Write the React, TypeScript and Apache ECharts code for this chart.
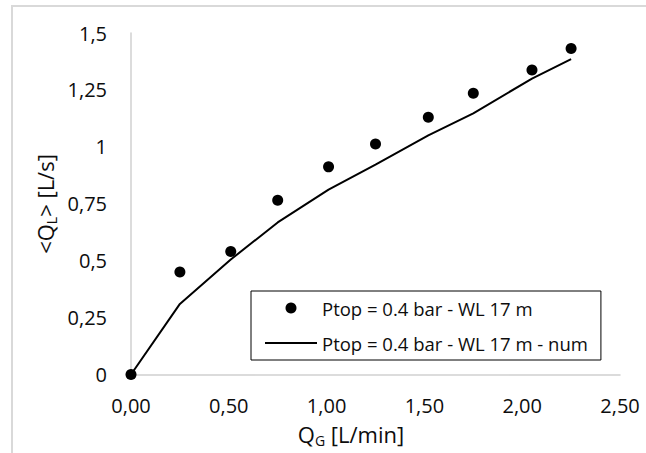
import React, { useEffect, useRef } from "react";
import * as echarts from "echarts";

// Gas flow rate Q_G [L/min] (x) for experimental points
const gasFlowExp = [0, 0.25, 0.51, 0.75, 1.01, 1.25, 1.52, 1.75, 2.05, 2.25];
// Mean liquid flow rate <Q_L> [L/s], experiment
const liquidFlowExp = [0, 0.45, 0.54, 0.765, 0.912, 1.012, 1.13, 1.235, 1.337, 1.432];
// Numerical curve
const gasFlowNum = [0, 0.25, 0.51, 0.75, 1.01, 1.25, 1.52, 1.75, 2.05, 2.25];
const liquidFlowNum = [0, 0.31, 0.505, 0.668, 0.812, 0.922, 1.05, 1.147, 1.3, 1.385];

const seriesNames = ["Ptop = 0.4 bar - WL 17 m", "Ptop = 0.4 bar - WL 17 m - num"];
const xTicks = [0, 0.5, 1, 1.5, 2, 2.5];
const yTicks = [0, 0.25, 0.5, 0.75, 1, 1.25, 1.5];

const FONT = "'Open Sans', 'Noto Sans', sans-serif";
const TEXT = "#0d0d0d";

export default function App() {
  const ref = useRef<HTMLDivElement>(null);
  useEffect(() => {
    if (!ref.current) return;
    const chart = echarts.init(ref.current, undefined, { renderer: "svg" });
    const option = {
      animation: false,
      backgroundColor: "#ffffff",
      grid: { left: 131, right: 26, top: 33, bottom: 78.5, containLabel: false },
      xAxis: {
        type: "value",
        min: xTicks[0],
        max: xTicks[xTicks.length - 1],
        interval: 0.5,
        axisLine: { show: true, lineStyle: { color: "#d0d0d0", width: 1.5 } },
        axisTick: { show: false },
        splitLine: { show: false },
        axisLabel: {
          margin: 21,
          fontSize: 20,
          fontFamily: FONT,
          color: TEXT,
          formatter: (v: number) => v.toFixed(2).replace(".", ","),
        },
      },
      yAxis: {
        type: "value",
        min: yTicks[0],
        max: yTicks[yTicks.length - 1],
        interval: 0.25,
        axisLine: { show: true, lineStyle: { color: "#d0d0d0", width: 1.5 } },
        axisTick: { show: false },
        splitLine: { show: false },
        axisLabel: {
          margin: 24,
          fontSize: 20,
          fontFamily: FONT,
          color: TEXT,
          formatter: (v: number) => String(v).replace(".", ","),
        },
      },
      legend: {
        orient: "vertical",
        left: 251,
        top: 291,
        padding: [6, 13, 6, 14],
        itemWidth: 52,
        itemHeight: 11,
        itemGap: 13,
        borderColor: "#000000",
        borderWidth: 1,
        backgroundColor: "#ffffff",
        textStyle: { fontSize: 18.5, fontFamily: FONT, color: TEXT, lineHeight: 22 },
        data: [
          { name: seriesNames[0], icon: "circle", itemStyle: { color: "#000000", opacity: 1 } },
          { name: seriesNames[1], icon: "path://M0,0H52V2H0Z", itemStyle: { color: "#000000" } },
        ],
      },
      graphic: [
        {
          type: "rect",
          silent: true,
          shape: { x: 12, y: 6, width: 700, height: 500 },
          style: { fill: "none", stroke: "#d9d9d9", lineWidth: 2 },
          z: -10,
        },
        {
          type: "text",
          x: 351,
          y: 434,
          style: {
            text: "Q{sub|G} [L/min]",
            font: `22px ${FONT}`,
            fill: TEXT,
            align: "center",
            verticalAlign: "middle",
            lineHeight: 26,
            rich: {
              sub: { fontSize: 14, fontFamily: FONT, fill: TEXT, lineHeight: 12, verticalAlign: "bottom" },
            },
          },
        },
        {
          type: "text",
          x: 45,
          y: 204,
          rotation: Math.PI / 2,
          style: {
            text: "<Q{sub|L}> [L/s]",
            font: `22px ${FONT}`,
            fill: TEXT,
            align: "center",
            verticalAlign: "middle",
            lineHeight: 26,
            rich: {
              sub: { fontSize: 14, fontFamily: FONT, fill: TEXT, lineHeight: 12, verticalAlign: "bottom" },
            },
          },
        },
      ],
      series: [
        {
          name: seriesNames[1],
          type: "line",
          data: gasFlowNum.map((x, i) => [x, liquidFlowNum[i]]),
          showSymbol: false,
          symbol: "none",
          clip: false,
          lineStyle: { color: "#000000", width: 2 },
          itemStyle: { color: "#000000" },
          z: 2,
        },
        {
          name: seriesNames[0],
          type: "scatter",
          data: gasFlowExp.map((x, i) => [x, liquidFlowExp[i]]),
          symbol: "circle",
          symbolSize: 11,
          clip: false,
          itemStyle: { color: "#000000", opacity: 1 },
          z: 3,
        },
      ],
    };
    chart.setOption(option as any);
    return () => chart.dispose();
  }, []);
  return (
    <div
      ref={ref}
      style={{ position: "absolute", left: 0, top: 0, width: 646, height: 453 }}
    />
  );
}
